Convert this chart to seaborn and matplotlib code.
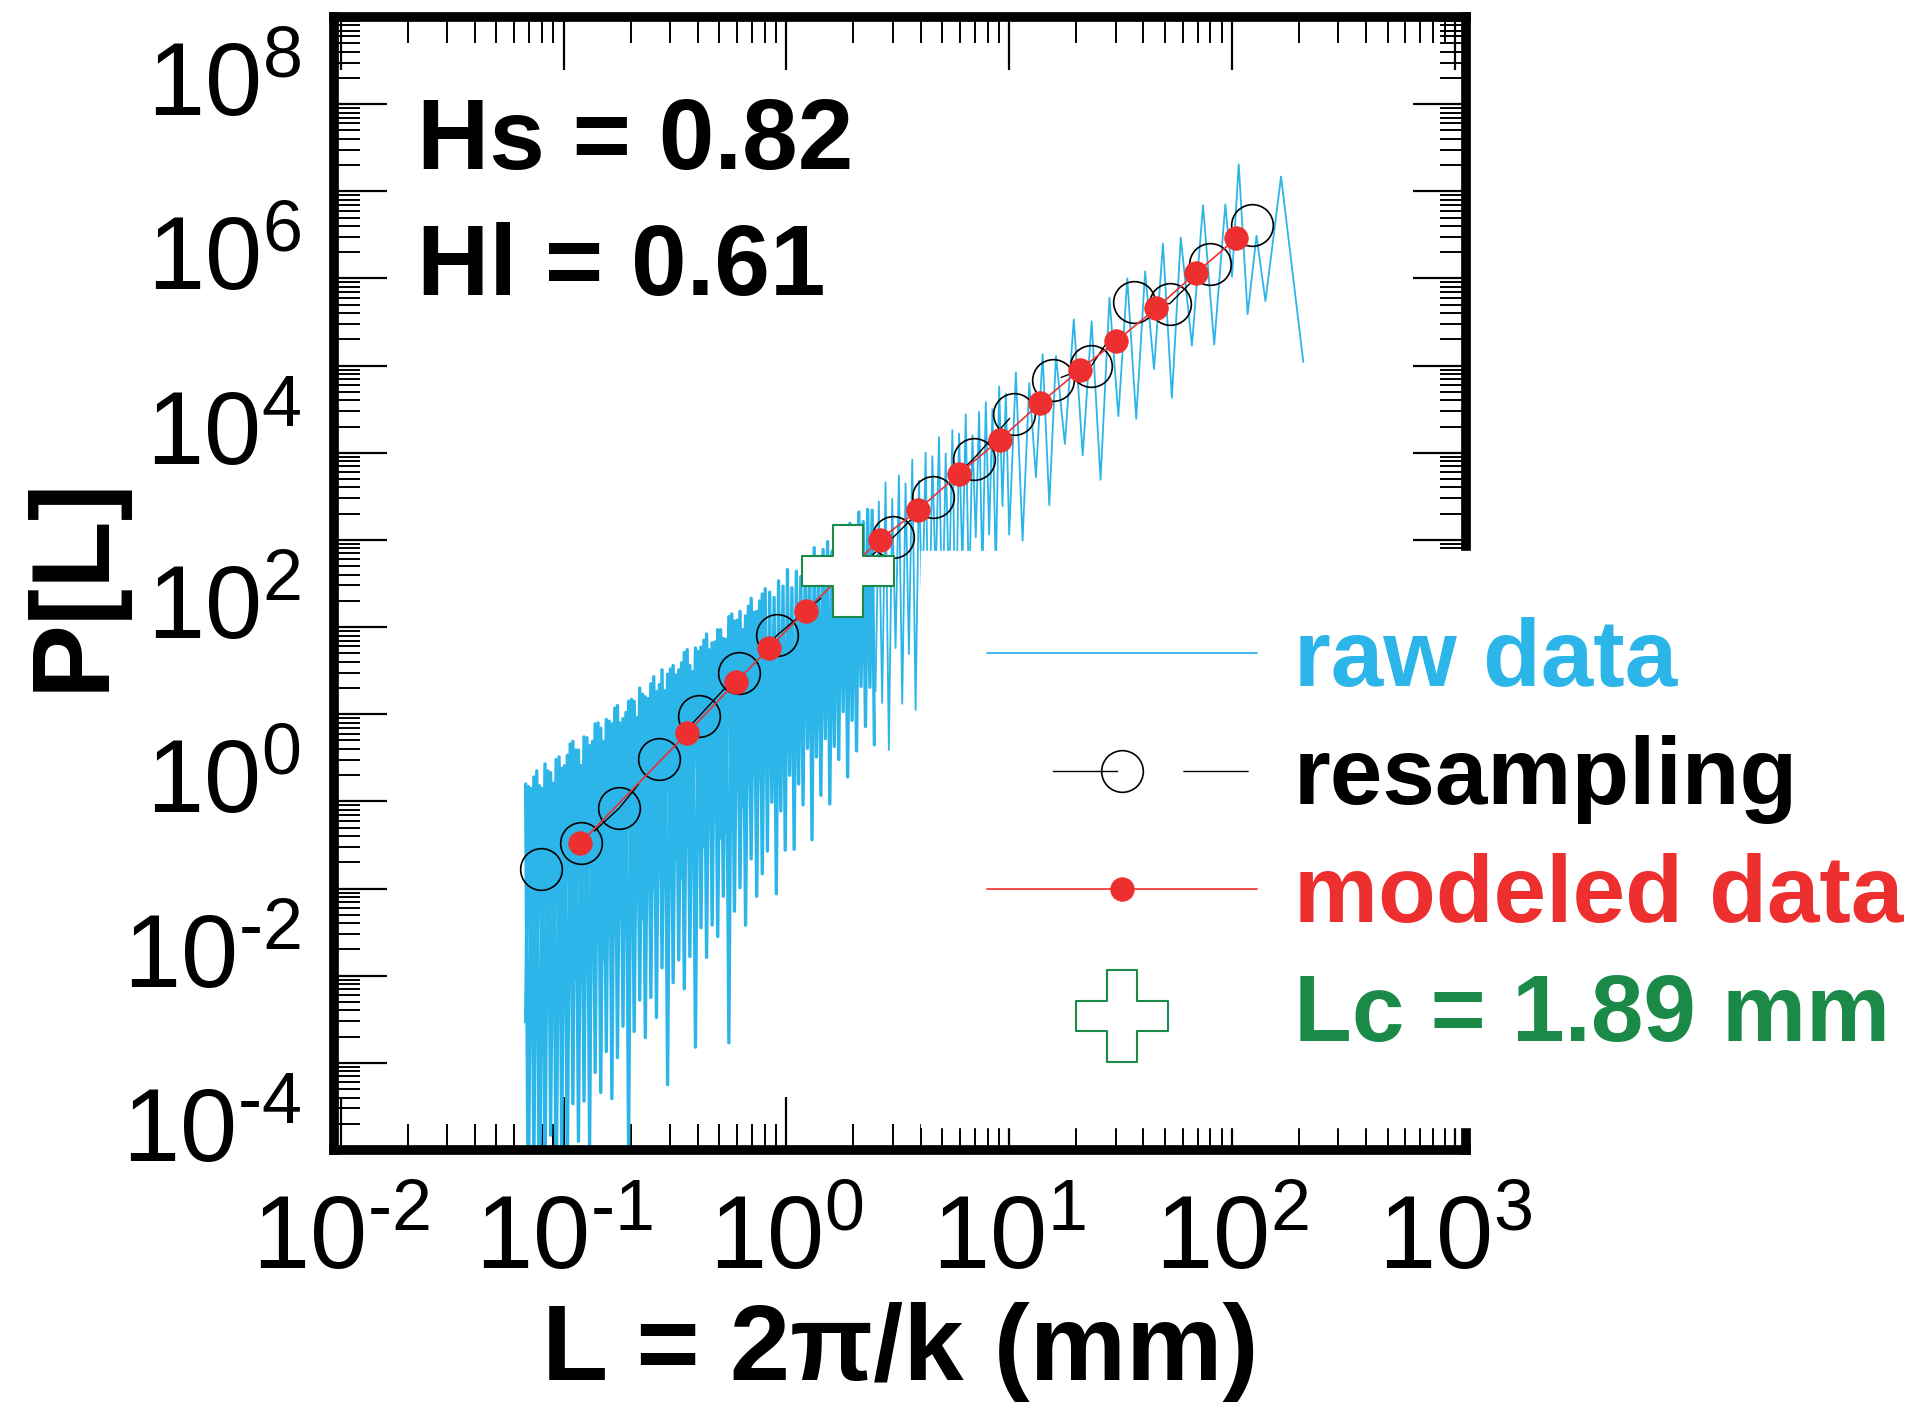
import numpy as np
import matplotlib
matplotlib.use("Agg")
import matplotlib.pyplot as plt
import seaborn as sns
from matplotlib.ticker import LogLocator, NullLocator, NullFormatter

# ---------------- data ----------------
# raw spectrum, dense small-scale part (log10 values, zig-zag of peaks / troughs)
raw_dense_log10_L = [
    -1.170, -1.158, -1.145, -1.133, -1.120, -1.108, -1.095, -1.083, -1.070, -1.058,
    -1.045, -1.033, -1.020, -1.008, -0.995, -0.983, -0.970, -0.958, -0.945, -0.933,
    -0.920, -0.908, -0.895, -0.883, -0.870, -0.858, -0.845, -0.833, -0.820, -0.808,
    -0.795, -0.783, -0.770, -0.758, -0.745, -0.733, -0.720, -0.708, -0.695, -0.683,
    -0.670, -0.658, -0.645, -0.633, -0.620, -0.608, -0.595, -0.583, -0.570, -0.558,
    -0.545, -0.533, -0.520, -0.508, -0.495, -0.483, -0.470, -0.458, -0.445, -0.433,
    -0.420, -0.408, -0.395, -0.383, -0.370, -0.358, -0.345, -0.333, -0.320, -0.308,
    -0.295, -0.283, -0.270, -0.258, -0.245, -0.233, -0.220, -0.208, -0.195, -0.183,
    -0.170, -0.158, -0.145, -0.133, -0.120, -0.108, -0.095,
    -0.085, -0.075, -0.065, -0.055, -0.045, -0.035, -0.025, -0.015, -0.005, 0.005,
    0.015, 0.025, 0.035, 0.045, 0.055, 0.065, 0.075, 0.085, 0.095, 0.105,
    0.115, 0.125, 0.135, 0.145, 0.155, 0.165, 0.175, 0.185, 0.195, 0.205,
    0.215, 0.225, 0.235, 0.245, 0.255, 0.265, 0.275, 0.285, 0.295, 0.305,
    0.315, 0.325, 0.335, 0.345, 0.355, 0.365, 0.375, 0.385, 0.395]
raw_dense_log10_P = [
    -0.09, -5.29, -0.14, -4.52, 0.06, -5.66, -0.14, -4.69, 0.06, -4.12,
    -0.08, -5.16, 0.22, -4.29, 0.12, -4.63, 0.37, -3.76, 0.30, -4.19,
    0.12, -3.73, 0.44, -4.26, 0.40, -3.40, 0.61, -3.63, 0.40, -3.16,
    0.63, -3.70, 0.78, -3.23, 0.61, -2.87, 0.73, -4.30, 0.88, -2.93,
    0.67, -2.57, 0.94, -3.00, 0.89, -2.54, 1.14, -2.77, 1.05, -2.20,
    0.98, -3.54, 1.23, -2.37, 1.16, -2.11, 1.30, -2.44, 1.45, -2.07,
    1.20, -3.11, 1.43, -1.74, 1.56, -2.08, 1.45, -1.71, 1.54, -1.84,
    1.68, -1.38, 1.57, -3.06, 1.86, -1.55, 1.79, -1.28, 1.68, -1.71,
    1.95, -0.95, 1.88, -1.38, 2.01, -1.12, 2.15,
    -0.86, 2.11, -0.30, 2.05, -1.35, 2.24, -0.40, 2.18, -0.85, 2.37,
    0.01, 2.16, -0.84, 2.35, -0.09, 2.29, -0.33, 2.49, 0.32, 2.43,
    -0.73, 2.62, 0.22, 2.41, -0.22, 2.60, 0.43, 2.69, -0.32, 2.58,
    0.34, 2.82, 0.19, 2.71, 0.74, 2.81, -0.01, 2.90, 0.64, 2.79,
    0.29, 3.03, 1.03, 2.92, 0.57, 3.06, 1.02, 3.05, 0.36]

# further raw samples of the dense part, at the same wavelengths (-1.170 ... -0.095)
raw_fill_log10_P = [
    -2.82, -0.12, -2.56, -0.01, -2.79, -0.11, -2.32, 0.14, -2.56, 0.04,
    -2.29, 0.19, -2.63, 0.09, -2.26, 0.24, -1.99, 0.40, -2.33, 0.30,
    -1.96, 0.45, -2.10, 0.35, -1.73, 0.60, -1.86, 0.55, -2.10, 0.65,
    -1.63, 0.60, -1.77, 0.81, -1.40, 0.66, -1.73, 0.86, -1.37, 0.86,
    -1.40, 1.01, -1.64, 0.91, -1.07, 1.06, -1.30, 0.97, -1.04, 1.22,
    -1.27, 1.17, -0.81, 1.27, -0.94, 1.22, -1.17, 1.42, -0.71, 1.27,
    -0.84, 1.47, -0.48, 1.48, -0.81, 1.63, -0.44, 1.53, -0.48, 1.68,
    -0.71, 1.58, -0.15, 1.83, -0.38, 1.78, -0.11, 1.89, -0.35, 1.84,
    -0.08, 2.04, 0.19, 1.89, -0.05, 2.09, 0.22]

# raw spectrum, sparse large-scale part (log10 values)
raw_sparse_log10_L = [
    0.400, 0.415, 0.430, 0.445, 0.460, 0.475, 0.490, 0.505, 0.520, 0.535,
    0.550, 0.565, 0.580, 0.595, 0.610, 0.625, 0.640, 0.655, 0.670, 0.685,
    0.700, 0.715, 0.730, 0.745, 0.760, 0.775, 0.790, 0.805, 0.820, 0.835,
    0.850, 0.865, 0.880, 0.895, 0.910, 0.925, 0.940, 0.955, 0.970, 0.985,
    1.000, 1.03, 1.06, 1.09, 1.12, 1.15, 1.18, 1.21, 1.25, 1.29,
    1.33, 1.37, 1.41, 1.45, 1.49, 1.53, 1.57, 1.61, 1.65, 1.69,
    1.73, 1.77, 1.82, 1.87, 1.92, 1.97, 2.00, 2.03, 2.07, 2.11,
    2.15, 2.22, 2.32]
raw_sparse_log10_P = [
    0.97, 3.15, 0.84, 3.37, 0.30, 3.18, 1.47, 3.45, 0.83, 3.36,
    1.40, 3.63, 0.76, 3.39, 1.93, 3.71, 1.29, 3.67, 2.25, 3.89,
    1.62, 3.70, 2.08, 3.97, 1.45, 3.93, 2.41, 4.15, 1.98, 3.91,
    2.74, 4.18, 2.31, 4.29, 2.77, 4.21, 2.34, 4.47, 3.10, 4.39,
    2.77, 4.63, 2.70, 4.51, 3.43, 4.84, 3.11, 4.82, 3.81, 5.24,
    3.68, 5.22, 3.40, 5.49, 4.13, 5.71, 4.10, 5.79, 4.67, 6.11,
    4.34, 6.18, 4.94, 6.55, 4.95, 6.56, 5.73, 7.02, 5.30, 6.20,
    5.45, 6.88, 4.75]

# resampled spectrum (open circles)
resampling_L = [0.0794, 0.120, 0.178, 0.269, 0.407, 0.610, 0.912, 3.02, 4.57,
                6.92, 10.5, 15.8, 23.4, 36.3, 52.5, 79.4, 123.0]
resampling_P = [0.085, 0.17, 0.43, 1.58, 4.9, 15.1, 41.7, 550, 1585,
                4365, 14450, 34670, 51290, 275400, 263000, 758600, 2.09e6]

# modeled spectrum (red dots)
modeled_L = [0.119, 0.358, 0.594, 0.838, 1.22, 2.62, 3.88, 5.97, 9.06,
             13.8, 20.7, 30.2, 45.8, 68.7, 104.5]
modeled_P = [0.17, 3.09, 12.0, 29.5, 79.4, 513, 1122, 2951, 7244,
             19050, 45710, 97720, 234400, 588800, 1.48e6]

# crossover length
Lc_L = [1.89]
Lc_P = [224.0]

x_tick_exponents = [-2, -1, 0, 1, 2, 3]
y_tick_exponents = [-4, -2, 0, 2, 4, 6, 8]
legend_labels = ["raw data", "resampling", "modeled data", "Lc = 1.89 mm"]

# ---------------- style ----------------
sns.set_theme(style="white")
plt.rcParams["font.family"] = ["Liberation Sans", "DejaVu Sans"]
plt.rcParams["mathtext.fontset"] = "custom"
plt.rcParams["mathtext.rm"] = "Liberation Sans"
plt.rcParams["mathtext.it"] = "Liberation Sans:italic"
plt.rcParams["mathtext.bf"] = "Liberation Sans:bold"
for k in ["text.color", "axes.labelcolor", "xtick.color", "ytick.color", "axes.edgecolor"]:
    plt.rcParams[k] = "black"

BLUE = "#2cb5e8"
RED = "#ee2f2f"
GREEN = "#1b8a48"
W, H = 1923, 1413


def exp_label(e):
    s = str(abs(e)) if e >= 0 else "\u2010" + str(abs(e))
    return r"$\mathregular{10^{%s}}$" % s


fig = plt.figure(figsize=(W / 100, H / 100), dpi=100)
fig.patch.set_facecolor("white")
ax = fig.add_axes([334 / W, 1 - 1150 / H, (1466 - 334) / W, (1150 - 17) / H])
ax.set_xscale("log")
ax.set_yscale("log")
ax.set_xlim(10 ** -2.03, 10 ** 3.05)
ax.set_ylim(10 ** -4.29, 10 ** 8.71)

# ---------------- series ----------------
dense_L = 10 ** np.array(raw_dense_log10_L)
dense_P = 10 ** np.array(raw_dense_log10_P)
fill_L = dense_L[:len(raw_fill_log10_P)]
fill_P = 10 ** np.array(raw_fill_log10_P)
sparse_L = 10 ** np.array(raw_sparse_log10_L)
sparse_P = 10 ** np.array(raw_sparse_log10_P)

sns.lineplot(x=dense_L, y=dense_P, ax=ax, sort=False, estimator=None,
             color=BLUE, lw=2.4, legend=False, zorder=2)
sns.lineplot(x=fill_L, y=fill_P, ax=ax, sort=False, estimator=None,
             color=BLUE, lw=2.4, legend=False, zorder=2)
sns.lineplot(x=sparse_L, y=sparse_P, ax=ax, sort=False, estimator=None,
             color=BLUE, lw=1.3, legend=False, zorder=2)
raw_line = ax.lines[-1]

sns.lineplot(x=resampling_L, y=resampling_P, ax=ax, sort=False, estimator=None,
             color="black", lw=1.0, marker="o", markersize=30,
             markerfacecolor="none", markeredgecolor="black", markeredgewidth=1.2,
             legend=False, zorder=3)
res_line = ax.lines[-1]
res_line.set_linestyle((47, (47, 47)))

sns.lineplot(x=modeled_L, y=modeled_P, ax=ax, sort=False, estimator=None,
             color=RED, lw=1.2, marker="o", markersize=17,
             markerfacecolor=RED, markeredgecolor=RED, markeredgewidth=0.5,
             legend=False, zorder=4)
mod_line = ax.lines[-1]

sns.scatterplot(x=Lc_L, y=Lc_P, ax=ax, marker="P", s=66 ** 2,
                color="white", edgecolor=GREEN, linewidth=1.5, legend=False, zorder=6)
cross = ax.collections[-1]

# ---------------- axes / ticks ----------------
for sp in ax.spines.values():
    sp.set_linewidth(7)
    sp.set_color("black")
    sp.set_visible(True)

ax.set_xticks([10.0 ** e for e in x_tick_exponents],
              [exp_label(e) for e in x_tick_exponents])
ax.xaxis.set_minor_locator(LogLocator(base=10, subs=(2, 3, 4, 5, 6, 7, 8, 9), numticks=50))
ax.xaxis.set_minor_formatter(NullFormatter())
ax.tick_params(axis="x", which="both", direction="in", top=True, bottom=True,
               labeltop=False, color="black")
ax.tick_params(axis="x", which="major", length=38, width=1.6, pad=32, labelsize=74)
ax.tick_params(axis="x", which="minor", length=19, width=1.4)

ax.set_yticks([10.0 ** e for e in y_tick_exponents],
              [exp_label(e) for e in y_tick_exponents])
ax.yaxis.set_minor_locator(NullLocator())
ax.tick_params(axis="y", which="major", length=0, pad=24, labelsize=74, left=True, right=False)

# tick marks of the y axis (drawn offset from the labels, as in the original figure)
shift = 10 ** 0.29
for side in ("left", "right"):
    sec = ax.secondary_yaxis(side, functions=(lambda y: y * shift, lambda y: y / shift))
    sec.yaxis.set_major_locator(LogLocator(base=10, numticks=50))
    sec.yaxis.set_minor_locator(LogLocator(base=10, subs=(2, 3, 4, 5, 6, 7, 8, 9), numticks=50))
    sec.yaxis.set_major_formatter(NullFormatter())
    sec.yaxis.set_minor_formatter(NullFormatter())
    sec.tick_params(which="both", direction="in", color="black")
    sec.tick_params(which="major", length=38, width=1.6)
    sec.tick_params(which="minor", length=19, width=1.4)
    for sp in sec.spines.values():
        sp.set_visible(False)

ax.set_xlabel("L = 2π/k (mm)", fontsize=78, fontweight="bold")
ax.xaxis.set_label_coords(0.5, (1150 - 1352) / 1133)
ax.xaxis.label.set_va("center")
ax.set_ylabel("P[L]", fontsize=80, fontweight="bold")
ax.yaxis.set_label_coords((74 - 334) / 1132, 0.5)
ax.yaxis.label.set_va("center")

ax.text(0.073, 0.866, "Hs = 0.82", transform=ax.transAxes, fontsize=72,
        fontweight="bold", va="baseline", ha="left", color="black")
ax.text(0.073, 0.755, "Hl = 0.61", transform=ax.transAxes, fontsize=72,
        fontweight="bold", va="baseline", ha="left", color="black")

leg = ax.legend([raw_line, res_line, mod_line, cross], legend_labels,
                loc="upper left", bbox_to_anchor=(0.5186, 0.529), borderaxespad=0,
                frameon=True, fancybox=False, framealpha=1, facecolor="white",
                edgecolor="white", prop={"size": 68, "weight": "bold"},
                handlelength=2.86, handletextpad=0.39, labelspacing=0.31,
                borderpad=0.7, numpoints=1, scatterpoints=1, markerscale=1)
leg.set_zorder(10)
for t, c in zip(leg.get_texts(), [BLUE, "black", RED, GREEN]):
    t.set_color(c)

fig.savefig("out.png", dpi=100, facecolor="white")
